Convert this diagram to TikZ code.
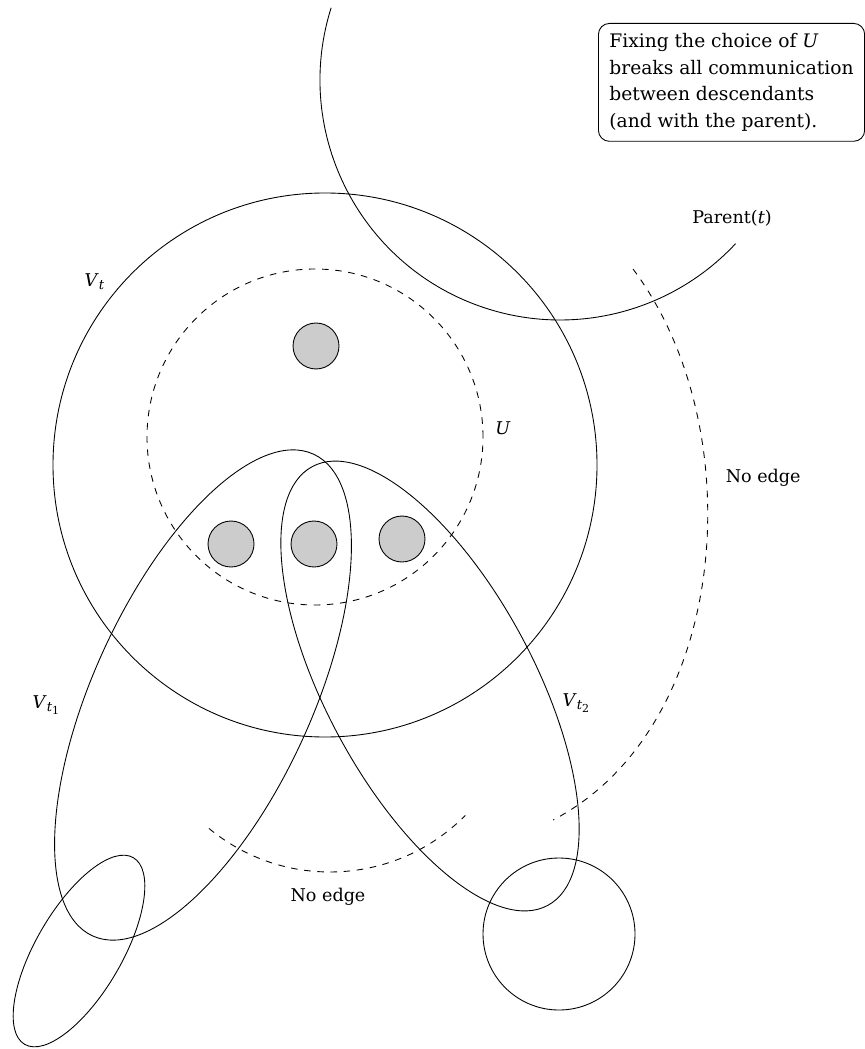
\documentclass[tikz,border=0pt]{standalone}
\usepackage{fontspec}
\setmainfont{DejaVu Serif}
\usepackage{tikz}
\usetikzlibrary{positioning}
\newcommand{\setlab}[1]{\textit{V}\textsubscript{\textit{t}#1}}

\begin{document}
\begin{tikzpicture}[x=0.016cm,y=0.016cm,every node/.style={font=\fontsize{8}{12.15}\selectfont},
   set/.style={draw,thin},cut/.style={draw,thin,dashed},
   vertex/.style={circle,draw,thin,fill=black!20,inner sep=0pt,minimum size=0.736cm},
   note/.style={draw,thin,rounded corners=5pt,align=left,inner xsep=5pt,inner ysep=4.5pt,
     font=\fontsize{8.5}{12.15}\selectfont}]
\useasboundingbox (0,0) rectangle (864,-1049);
% bags of the decomposition
\draw[set] (325,-465) circle (272);
\draw[cut] (315,-437) circle (168);
\draw[set] ([shift={(162.5:240)}]560,-80) arc[start angle=162.5,end angle=317,radius=240];
\draw[set,rotate around={65.35:(203,-695)}] (203,-695) ellipse [x radius=265,y radius=109];
\draw[set,rotate around={118.2:(430,-686)}] (430,-686) ellipse [x radius=249,y radius=104];
\draw[set,rotate around={59.8:(79,-951)}] (79,-951) ellipse [x radius=108,y radius=43];
\draw[set] (559,-934) circle (76);
% separations
\draw[cut] (633,-269) .. controls (753,-429) and (730,-728) .. (553,-820);
\draw[cut] ([shift={(230.4:190)}]330,-682) arc[start angle=230.4,end angle=315.4,radius=190];
% vertices of U
\node[vertex] (u0) at (316,-346) {};
\node[vertex] (u1) at (231,-544) {};
\node[vertex] (u2) at (314,-544) {};
\node[vertex] (u3) at (402,-539) {};
% labels
\node (vt) at (95,-282) {\setlab{}};
\node (ulab) at (503,-428) {\textit{U}};
\node (vt1) at (47,-705) {\setlab{\textsubscript{1}}};
\node (vt2) at (577,-703) {\setlab{\textsubscript{2}}};
\node (parent) at (732,-218) {Parent(\textit{t})};
\node[anchor=west] (noedge1) at (718,-478) {No edge};
\node (noedge2) at (328,-897) {No edge};
\node[note,anchor=north west] (note) at (598,-23) {Fixing the choice of \textit{U}\\ breaks all communication\\ between descendants\\ (and with the parent).};
\end{tikzpicture}
\end{document}
